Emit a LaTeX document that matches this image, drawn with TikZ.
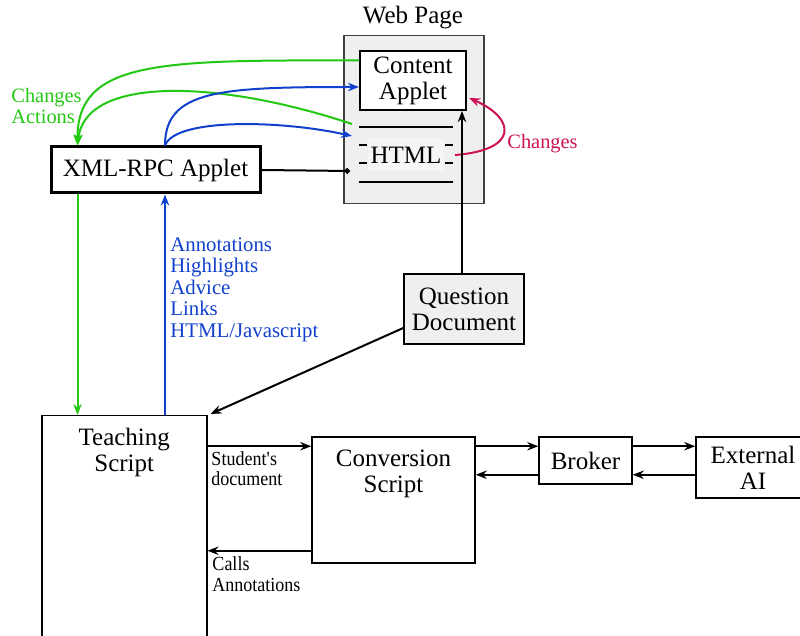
\documentclass[tikz,border=0pt]{standalone}
\usepackage{fontspec}
\setmainfont{Liberation Serif}
\newfontfamily\narrowserif[FakeStretch=0.9]{Liberation Serif}
\usetikzlibrary{arrows.meta,positioning}
\definecolor{chgreen}{HTML}{22C811}
\definecolor{annblue}{HTML}{1140CC}
\definecolor{chred}{HTML}{CC1155}
\definecolor{pagegray}{HTML}{EFEFEF}
\begin{document}
\begin{tikzpicture}[x=0.5pt,y=-0.5pt,
    >={Stealth[length=5.5pt,width=4.2pt]},
    every node/.style={font=\fontsize{12.5}{13}\selectfont, align=center},
    box/.style={draw, line width=0.75pt, inner sep=0pt},
    lbl/.style={inner sep=0pt, align=left},
    arr/.style={->, line width=1pt},
    greenarr/.style={->, draw=chgreen, line width=1pt},
    bluearr/.style={->, draw=annblue, line width=1pt}]
  \clip (0,0) rectangle (800,636);

  \node (Title) at (413,18) {Web Page};
  \node[draw=black!75, fill=pagegray, line width=0.75pt, minimum width=70pt, minimum height=84pt, anchor=north west] (Web Page) at (343,35) {};
  \node[box, fill=white, line width=1pt, minimum width=53pt, minimum height=29.5pt] (Content) at (413,80.5) {Content\\Applet};
  \node[fill=black!4, inner xsep=1.5pt, inner ysep=0pt, minimum height=16.5pt] (HTML) at (406,155) {HTML};
  \draw[line width=1pt] (359,127) -- (453,127) (359,182) -- (453,182);
  \foreach \y in {145,163}
    \draw[line width=1pt] (359,\y) -- (367,\y) (445,\y) -- (453,\y);
  \coordinate (html green) at (352,124);
  \coordinate (html blue) at (352,136);
  \coordinate (html dot) at (350,171);
  \coordinate (html red) at (455,155);

  \node[box, line width=1.5pt, minimum width=104.5pt, minimum height=23pt] (XMLRPC) at (155.5,170) {XML-RPC Applet};
  \node[box, fill=pagegray, minimum width=60pt, minimum height=35pt] (Question) at (464,309) {Question\\Document};

  \node[box, minimum width=82.5pt, minimum height=115pt, anchor=north west] (Teaching) at (41,415) {};
  \node[below=3pt of Teaching.north] (Teaching text) {Teaching\\Script};
  \node[box, minimum width=81.5pt, minimum height=63pt] (Conversion) at (393.5,500) {};
  \node[below=3.5pt of Conversion.north] (Conversion text) {Conversion\\Script};
  \node[box, minimum width=46.5pt, minimum height=23.5pt] (Broker) at (585.5,460.5) {Broker};
  \node[box, minimum width=57pt, minimum height=30.5pt] (External) at (753,467.5) {External\\AI};

  \node[lbl, text=chgreen, font=\fontsize{10.2}{10.5}\selectfont, anchor=north west] (Actions) at (11,88) {Changes\\Actions};
  \node[lbl, text=chred, font=\fontsize{10.2}{10.5}\selectfont, anchor=west] (Changes) at (507,144) {Changes};
  \node[lbl, text=annblue, font=\fontsize{10.4}{10.75}\selectfont, anchor=north west] (Annotations) at (170,237)
    {Annotations\\Highlights\\Advice\\Links\\HTML/Javascript};

  \draw[greenarr] ([yshift=10pt]Content.west) .. controls (160,60) and (77,60) .. ([xshift=-39pt]XMLRPC.north);
  \draw[greenarr] (html green) .. controls (220,80) and (85,75) .. ([xshift=-39pt]XMLRPC.north);
  \draw[bluearr] ([xshift=4.75pt]XMLRPC.north) .. controls (165,90) and (220,87) .. ([yshift=-3.25pt]Content.west);
  \draw[bluearr] ([xshift=4.75pt]XMLRPC.north) .. controls (175,118) and (280,120) .. (html blue);
  \draw[line width=1pt, -{Circle[length=2.8pt]}] (XMLRPC.east) -- (html dot);
  \draw[->, draw=chred, line width=1pt] (html red) .. controls (520,150) and (515,118) .. ([xshift=1pt,yshift=-8.75pt]Content.east);

  \draw[greenarr] ([xshift=-39pt]XMLRPC.south) -- ([xshift=-39pt]XMLRPC.south |- Teaching.north);
  \draw[bluearr] ([xshift=4.75pt]XMLRPC.south |- Teaching.north) -- ([xshift=4.75pt]XMLRPC.south);
  \draw[arr] ([xshift=-1pt]Question.north) -- ([xshift=-1pt]Question.north |- Content.south);
  \draw[arr] ([yshift=-9.5pt]Question.west) -- ([xshift=1.5pt,yshift=0.5pt]Teaching.north east);

  \draw[arr] ([yshift=-5pt]Conversion.north west -| Teaching.east) -- ([yshift=-5pt]Conversion.north west)
    node[lbl, pos=0, anchor=north west, xshift=1.5pt, yshift=-2pt, font=\narrowserif\fontsize{10}{10}\selectfont] (Student) {Student\textquotesingle s\\document};
  \draw[arr] ([yshift=6.5pt]Conversion.south west) -- ([yshift=6.5pt]Conversion.south west -| Teaching.east)
    node[lbl, pos=1, anchor=north west, xshift=2pt, yshift=-2.5pt, font=\narrowserif\fontsize{10}{10.5}\selectfont] (Calls) {Calls\\Annotations};
  \draw[arr] ([yshift=-5pt]Broker.north west -| Conversion.east) -- ([yshift=-5pt]Broker.north west);
  \draw[arr] ([yshift=5pt]Broker.south west) -- ([yshift=5pt]Broker.south west -| Conversion.east);
  \draw[arr] ([yshift=-5pt]Broker.north east) -- ([yshift=-5pt]Broker.north east -| External.west);
  \draw[arr] ([yshift=5pt]Broker.south east -| External.west) -- ([yshift=5pt]Broker.south east);
\end{tikzpicture}
\end{document}
